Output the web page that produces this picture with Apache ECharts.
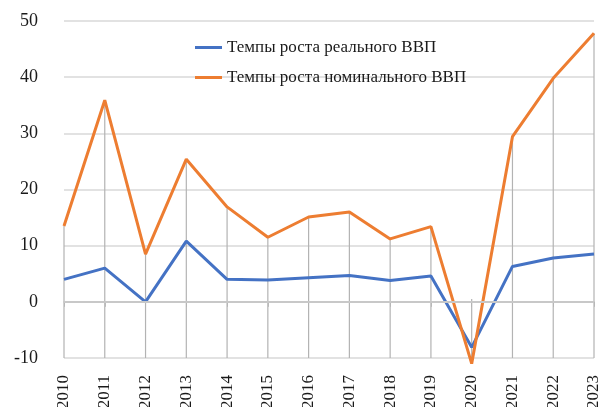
<!DOCTYPE html>
<html>
<head>
<meta charset="utf-8">
<script src="https://cdn.jsdelivr.net/npm/echarts@6/dist/echarts.min.js"></script>
<style>
  html, body { margin: 0; padding: 0; background: #fff; }
  #chart { width: 603px; height: 407px; }
</style>
</head>
<body>
<div id="chart"></div>
<script>
var years = ["2010", "2011", "2012", "2013", "2014", "2015", "2016", "2017", "2018", "2019", "2020", "2021", "2022", "2023"];
var realGdp = [4.0, 6.0, 0.0, 10.8, 4.0, 3.9, 4.3, 4.7, 3.8, 4.6, -8.1, 6.3, 7.8, 8.5];
var nominalGdp = [13.5, 35.9, 8.5, 25.4, 16.9, 11.5, 15.1, 16.0, 11.2, 13.4, -11.0, 29.4, 39.8, 47.8];
var yTicks = [-10, 0, 10, 20, 30, 40, 50];

var font = "Liberation Serif";

// вертикальные линии от верхней точки к оси
var dropData = years.map(function (y, i) {
  return [i, Math.max(realGdp[i], nominalGdp[i], 0.5)];
});

var myChart = echarts.init(document.getElementById("chart"));

var option = {
  animation: false,
  grid: { left: 64, right: 9, top: 21, bottom: 49, containLabel: false, outerBoundsMode: "none" },
  legend: {
    orient: "vertical",
    left: 190,
    top: 34,
    itemGap: 13,
    icon: "rect",
    itemWidth: 27,
    itemHeight: 3,
    textStyle: { fontFamily: font, fontSize: 17, color: "#1a1a1a" },
    data: ["Темпы роста реального ВВП", "Темпы роста номинального ВВП"]
  },
  xAxis: {
    type: "category",
    data: years,
    boundaryGap: false,
    axisLine: { lineStyle: { color: "#d9d9d9", width: 1.5 } },
    axisTick: { show: true, length: 5, lineStyle: { color: "#bfbfbf" } },
    axisLabel: {
      rotate: 90,
      margin: 17,
      fontFamily: font,
      fontSize: 17,
      color: "#1a1a1a"
    },
    splitLine: { show: false }
  },
  yAxis: {
    type: "value",
    min: yTicks[0],
    max: yTicks[yTicks.length - 1],
    interval: 10,
    axisLine: { show: false },
    axisTick: { show: false },
    axisLabel: {
      margin: 26,
      fontFamily: font,
      fontSize: 18,
      color: "#1a1a1a"
    },
    splitLine: { lineStyle: { color: "#d9d9d9", width: 1.5 } }
  },
  series: [
    {
      type: "custom",
      silent: true,
      z: 1,
      renderItem: function (params, api) {
        var top = api.coord([api.value(0), api.value(1)]);
        var bottom = api.coord([api.value(0), yTicks[0]]);
        return {
          type: "line",
          shape: { x1: top[0], y1: top[1], x2: bottom[0], y2: bottom[1] },
          style: { stroke: "#b3b3b3", lineWidth: 1.2 }
        };
      },
      data: dropData
    },
    {
      name: "Темпы роста реального ВВП",
      type: "line",
      data: realGdp,
      symbol: "none",
      clip: false,
      z: 3,
      lineStyle: { color: "#4472c4", width: 3 },
      itemStyle: { color: "#4472c4" },
      markLine: {
        silent: true,
        symbol: "none",
        label: { show: false },
        lineStyle: { color: "#c8c8c8", width: 2, type: "solid" },
        data: [{ yAxis: 0 }]
      }
    },
    {
      name: "Темпы роста номинального ВВП",
      type: "line",
      data: nominalGdp,
      symbol: "none",
      clip: false,
      z: 4,
      lineStyle: { color: "#ed7d31", width: 3 },
      itemStyle: { color: "#ed7d31" }
    }
  ]
};

myChart.setOption(option);
</script>
</body>
</html>
